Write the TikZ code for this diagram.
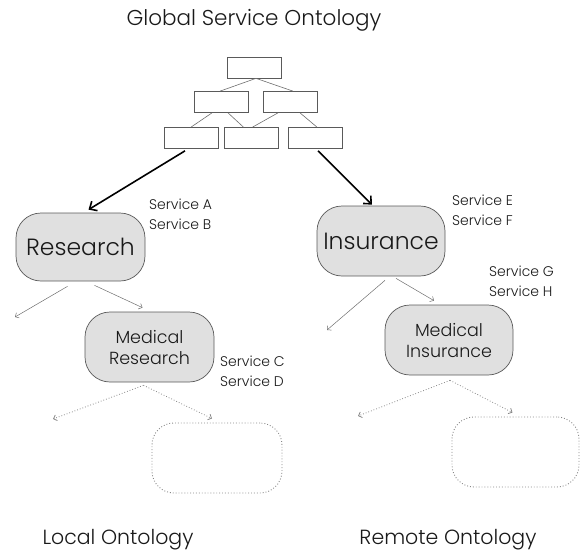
\documentclass[tikz,border=0pt]{standalone}
\usepackage{fontspec}
\setmainfont{Poppins}[UprightFont={* Light}]
\usetikzlibrary{arrows.meta}
\definecolor{boxfill}{RGB}{224,224,224}
\definecolor{edge}{RGB}{90,90,90}
\definecolor{thin}{RGB}{110,110,110}
\definecolor{dots}{RGB}{135,135,135}
\begin{document}
\begin{tikzpicture}[x=1pt,y=-1pt,
  treebox/.style={draw=edge,line width=0.7pt,minimum width=54pt,minimum height=21pt,inner sep=0pt},
  treeline/.style={draw=thin,line width=0.6pt},
  concept/.style={draw=edge,fill=boxfill,line width=0.7pt,rounded corners=25pt,inner sep=0pt,
    align=center,text=black!90},
  ghost/.style={draw=dots,line width=0.9pt,dotted,rounded corners=22pt,inner sep=0pt},
  maparrow/.style={draw=black,line width=1.6pt,-{Straight Barb[length=6pt,width=11pt,line width=1.6pt]}},
  subarrow/.style={draw=thin,line width=0.5pt,-{Straight Barb[length=3pt,width=6pt]}},
  dotarrow/.style={draw=dots,line width=0.8pt,dotted,-{Straight Barb[length=3pt,width=6pt]}},
  services/.style={anchor=west,align=left,inner sep=0pt,text=black!90,
    font=\fontsize{14}{20}\selectfont},
  caption/.style={inner sep=0pt,text=black!90,font=\fontsize{20.5}{24}\selectfont}]
\useasboundingbox (0,0) rectangle (582,552);

% global service ontology
\node[caption,font=\fontsize{21.5}{24}\selectfont] (title) at (254,20) {Global Service Ontology};
\node[treebox] (top)  at (254,67.5) {};
\node[treebox] (midL) at (221,102) {};
\node[treebox] (midR) at (290,102) {};
\node[treebox] (botL) at (191,138) {};
\node[treebox] (botM) at (251.5,138) {};
\node[treebox] (botR) at (315,138) {};
\draw[treeline] ([xshift=2pt]top.south) -- ([xshift=-1pt]midL.north);
\draw[treeline] ([xshift=2pt]top.south) -- ([xshift=3pt]midR.north);
\draw[treeline] ([xshift=-9pt]midL.south) -- (botL.north);
\draw[treeline] ([xshift=7pt]midL.south) -- ([xshift=-8pt]botM.north);
\draw[treeline] ([xshift=-12pt]midR.south) -- ([xshift=1pt]botM.north);
\draw[treeline] ([xshift=10pt]midR.south) -- ([xshift=2pt]botR.north);

% local ontology
\node[concept,minimum width=129pt,minimum height=68pt,font=\fontsize{23.5}{26}\selectfont]
  (research) at (80.5,247) {Research};
\node[concept,minimum width=129pt,minimum height=70pt,font=\fontsize{17.5}{21}\selectfont]
  (medres) at (149.5,347) {Medical\\Research};
\node[ghost,minimum width=130pt,minimum height=70pt] (localnext) at (217,458) {};
\node[services] (svcAB) at (149,214) {Service A\\Service B};
\node[services] (svcCD) at (220,371) {Service C\\Service D};
\coordinate (resfree) at (15,317);
\coordinate (medresfree) at (53,419);

% remote ontology
\node[concept,minimum width=128pt,minimum height=70pt,font=\fontsize{23.5}{26}\selectfont]
  (insurance) at (381,241) {Insurance};
\node[concept,minimum width=128pt,minimum height=70pt,font=\fontsize{17.5}{21}\selectfont]
  (medins) at (449,340) {Medical\\Insurance};
\node[ghost,minimum width=127pt,minimum height=70pt] (remotenext) at (515.5,452) {};
\node[services] (svcEF) at (452,210.5) {Service E\\Service F};
\node[services] (svcGH) at (489,281) {Service G\\Service H};
\coordinate (insfree) at (327,330);
\coordinate (medinsfree) at (358,416);

% mappings from the global ontology
\draw[maparrow] ([xshift=-6pt,yshift=-2pt]botL.south) -- ([xshift=8pt,yshift=3pt]research.north);
\draw[maparrow] ([xshift=3pt,yshift=-2pt]botR.south) -- ([xshift=-9pt,yshift=1pt]insurance.north);

% specialisation links
\draw[subarrow] ([xshift=-13pt,yshift=-5pt]research.south) -- (resfree);
\draw[subarrow] ([xshift=14pt,yshift=-4pt]research.south) -- ([xshift=-7pt,yshift=4pt]medres.north);
\draw[subarrow] ([xshift=4pt,yshift=-4pt]insurance.south) -- (insfree);
\draw[subarrow] ([xshift=15pt,yshift=-2pt]insurance.south) -- ([xshift=-15pt,yshift=4pt]medins.north);
\draw[dotarrow] ([xshift=-6pt,yshift=-3pt]medres.south) -- (medresfree);
\draw[dotarrow] ([xshift=-6pt,yshift=-3pt]medres.south) -- ([xshift=-5pt,yshift=4pt]localnext.north);
\draw[dotarrow] ([xshift=1pt,yshift=-5pt]medins.south) -- (medinsfree);
\draw[dotarrow] ([xshift=1pt,yshift=-5pt]medins.south) -- ([xshift=-3pt,yshift=4pt]remotenext.north);

\node[caption] (localcap) at (118,540) {Local Ontology};
\node[caption] (remotecap) at (448,540) {Remote Ontology};
\end{tikzpicture}
\end{document}
